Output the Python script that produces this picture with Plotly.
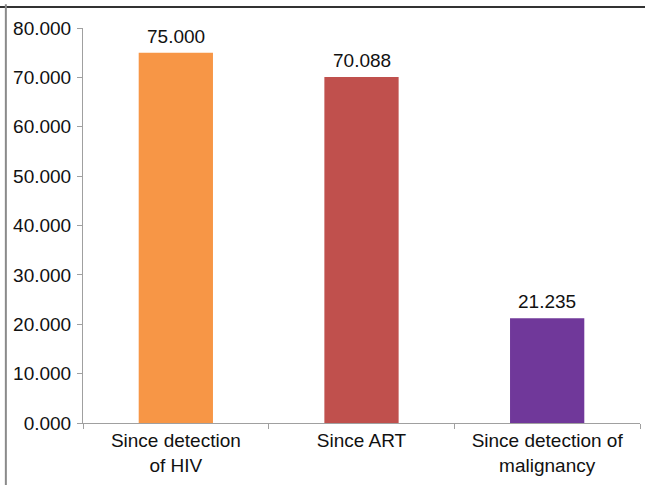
import plotly.graph_objects as go

# Median duration values for each category
categories = ["Since detection<br>of HIV", "Since ART", "Since detection of<br>malignancy"]
values = [75.000, 70.088, 21.235]
bar_colors = ["#F79646", "#C0504D", "#70389A"]
y_ticks = [0, 10, 20, 30, 40, 50, 60, 70, 80]

font_family = "Liberation Sans, Arial, sans-serif"
font_size = 19

fig = go.Figure(
    go.Bar(
        x=categories,
        y=values,
        marker=dict(color=bar_colors, line=dict(width=0)),
        width=0.4,
    )
)

# value labels above each bar
for cat, val in zip(categories, values):
    fig.add_annotation(
        x=cat, y=val, text=f"{val:.3f}",
        showarrow=False, yanchor="bottom", yshift=4,
        font=dict(family=font_family, size=font_size, color="#111111"),
    )

fig.update_layout(
    width=645,
    height=485,
    margin=dict(l=83, r=5, t=28, b=62),
    paper_bgcolor="white",
    plot_bgcolor="white",
    showlegend=False,
    font=dict(family=font_family, size=font_size, color="#111111"),
    # frame edges along the top and left of the figure
    shapes=[
        dict(type="line", xref="paper", yref="paper",
             x0=-0.2, x1=1.1, y0=1.053, y1=1.053,
             line=dict(color="#333333", width=2)),
        dict(type="line", xref="paper", yref="paper",
             x0=-0.1385, x1=-0.1385, y0=1.06, y1=-0.2,
             line=dict(color="#8a8a8a", width=2)),
    ],
)

fig.update_yaxes(
    range=[0, 80],
    tickvals=y_ticks,
    tickformat=".3f",
    showgrid=False,
    zeroline=False,
    showline=True,
    linecolor="#a0a0a0",
    linewidth=1,
    ticks="outside",
    ticklen=5,
    tickcolor="#a0a0a0",
    tickfont=dict(size=font_size),
    ticklabelstandoff=2,
)

fig.update_xaxes(
    showgrid=False,
    showline=True,
    linecolor="#a0a0a0",
    linewidth=1,
    ticks="outside",
    ticklen=5,
    tickcolor="#a0a0a0",
    tickson="boundaries",
    tickfont=dict(size=font_size),
)

fig.write_html("out.html")
